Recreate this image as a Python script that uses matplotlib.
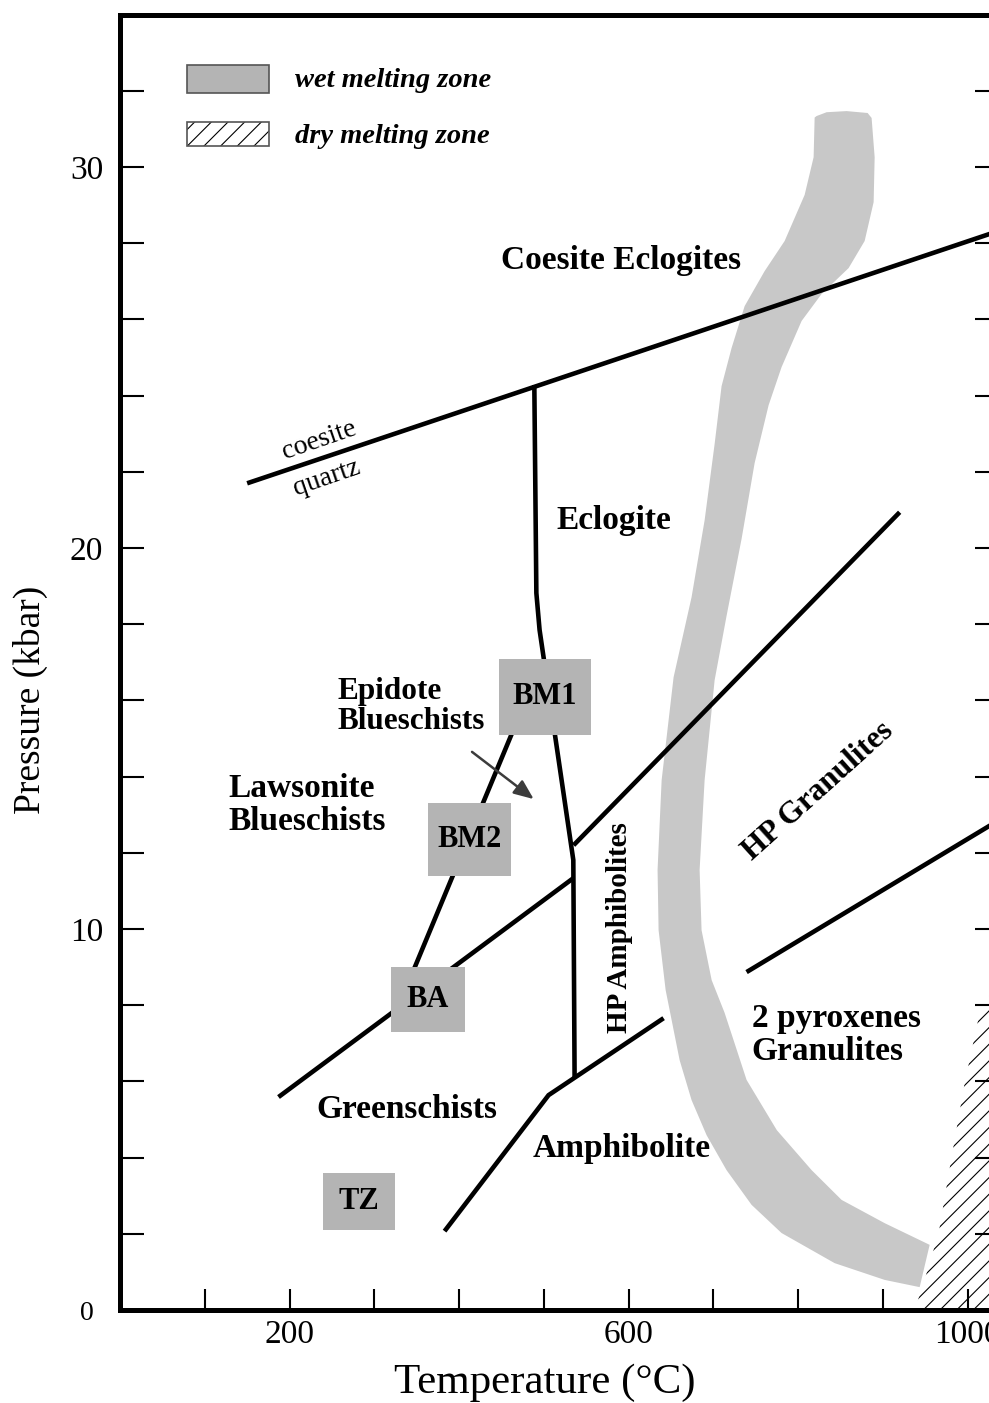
import numpy as np
import matplotlib
matplotlib.use("Agg")
import matplotlib.pyplot as plt
from matplotlib.patches import Polygon, Rectangle
from matplotlib.transforms import ScaledTranslation

plt.rcParams['font.family'] = ['Liberation Serif', 'DejaVu Serif']
plt.rcParams['hatch.linewidth'] = 0.8

# reaction / facies boundaries, T in deg C and P in kbar
coesite_T = [150, 1040]
coesite_P = [21.7, 28.35]

eclogite_T = [488.8, 491.2, 495.0, 534.8, 536.3]
eclogite_P = [24.28, 18.82, 17.85, 11.81, 6.11]

blueschist_T = [343.9, 469.0]
blueschist_P = [8.79, 15.49]

greenschist_T = [187.0, 535.1]
greenschist_P = [5.59, 11.34]

hp_granulite_T = [535.1, 919.8]
hp_granulite_P = [12.20, 20.94]

pyroxene_T = [739.2, 1040]
pyroxene_P = [8.87, 12.9]

amphibolite_T = [382.9, 505.6, 641.3]
amphibolite_P = [2.07, 5.64, 7.66]

# wet solidus band: left edge (top -> bottom), then right edge (bottom -> top)
wet_left_T = [819.5, 818.3, 807.7, 784.1, 760.5, 736.9, 721.5, 709.7, 701.5,
              689.7, 674.3, 653.1, 639.0, 634.2, 635.4, 643.7, 660.2, 674.3,
              692.0, 715.6, 745.1, 780.5, 843.1, 902.1, 943.4]
wet_left_P = [31.30, 30.26, 29.27, 28.06, 27.27, 26.35, 25.25, 24.25, 22.73,
              20.73, 18.71, 16.61, 13.91, 11.55, 9.97, 8.40, 6.56, 5.51,
              4.59, 3.67, 2.76, 2.02, 1.23, 0.79, 0.60]
wet_right_T = [955.2, 902.1, 851.3, 816.0, 774.9, 739.2, 713.3, 698.0, 686.1,
               683.8, 689.7, 701.5, 715.6, 733.3, 748.7, 765.2, 780.5, 804.1,
               827.7, 859.6, 878.5, 889.1, 890.3, 886.7, 882.0, 857.2, 833.6,
               821.8]
wet_right_P = [1.71, 2.28, 2.89, 3.67, 4.72, 6.04, 7.80, 8.66, 9.97,
               11.55, 13.91, 16.53, 18.22, 20.24, 22.23, 23.75, 24.75, 25.96,
               26.67, 27.35, 28.06, 29.08, 30.26, 31.29, 31.42, 31.47, 31.44,
               31.34]

# dry solidus: low-T edge of the hatched field
dry_T = [937.5, 948.1, 965.8, 981.1, 996.5, 1014.2, 1027.1, 1045, 1045]
dry_P = [0.0, 0.71, 2.02, 4.02, 5.96, 7.80, 8.32, 9.0, 0.0]

# P-T estimates of the samples
samples = ['BM1', 'BM2', 'BA', 'TZ']
sample_Tmin = [447, 363, 320, 239]
sample_Tmax = [556, 461, 407, 325]
sample_Pmin = [15.1, 11.4, 7.3, 2.1]
sample_Pmax = [17.1, 13.3, 9.0, 3.6]

fig = plt.figure(figsize=(9.89, 14.03), dpi=100)
ax = fig.add_axes([120 / 989, 93 / 1403, 879 / 989, 1295.3 / 1403])
ax.set_xlim(0, 1037)
ax.set_ylim(0, 34)

ax.add_patch(Polygon(np.column_stack([dry_T, dry_P]), closed=True,
                     facecolor='white', edgecolor='black', lw=0,
                     hatch='//', zorder=1))
ax.add_patch(Polygon(np.column_stack([wet_left_T + wet_right_T,
                                      wet_left_P + wet_right_P]),
                     closed=True, facecolor='#c8c8c8', edgecolor='none',
                     zorder=2))

lw = 3.3
for T, P in [(coesite_T, coesite_P), (eclogite_T, eclogite_P),
             (blueschist_T, blueschist_P), (greenschist_T, greenschist_P),
             (hp_granulite_T, hp_granulite_P), (pyroxene_T, pyroxene_P),
             (amphibolite_T, amphibolite_P)]:
    ax.plot(T, P, color='black', lw=lw, solid_joinstyle='miter',
            solid_capstyle='butt', zorder=3)

for name, t0, t1, p0, p1 in zip(samples, sample_Tmin, sample_Tmax,
                                sample_Pmin, sample_Pmax):
    ax.add_patch(Rectangle((t0, p0), t1 - t0, p1 - p0, facecolor='#b4b4b4',
                           edgecolor='none', zorder=4))
    ax.text((t0 + t1) / 2, (p0 + p1) / 2, name, ha='center', va='center',
            fontsize=22, fontweight='bold', zorder=5)

ax.annotate('', xy=(488.1, 13.41), xytext=(415.3, 14.65),
            arrowprops=dict(arrowstyle='-|>,head_length=1.2,head_width=0.5',
                            color='#3c3c3c', lw=1.8, shrinkA=0, shrinkB=0),
            zorder=5)

bold = dict(fontsize=24, fontweight='bold', zorder=5)
ax.text(591.7, 27.56, 'Coesite Eclogites', ha='center', va='center', **bold)
ax.text(582.3, 20.73, 'Eclogite', ha='center', va='center', **bold)
ax.text(256.6, 15.85, 'Epidote\nBlueschists', ha='left', va='center',
        linespacing=1.05, fontsize=22.5, fontweight='bold', zorder=5)
ax.text(128.0, 13.25, 'Lawsonite\nBlueschists', ha='left', va='center',
        linespacing=1.1, **bold)
ax.text(338.1, 5.25, 'Greenschists', ha='center', va='center', **bold)
ax.text(591.7, 4.25, 'Amphibolite', ha='center', va='center', **bold)
ax.text(589.4, 10.05, 'HP Amphibolites', ha='center', va='center',
        rotation=90, fontsize=21, fontweight='bold', zorder=5)
ax.text(824.2, 13.62, 'HP Granulites', ha='center', va='center',
        rotation=42, rotation_mode='anchor', fontsize=22.5,
        fontweight='bold', zorder=5)
ax.text(745.1, 7.22, '2 pyroxenes\nGranulites', ha='left', va='center',
        linespacing=1.1, **bold)
ax.text(235.4, 22.83, 'coesite', ha='center', va='center', fontsize=20,
        rotation=19, rotation_mode='anchor', zorder=5)
ax.text(243.7, 21.84, 'quartz', ha='center', va='center', fontsize=20,
        rotation=19, rotation_mode='anchor', zorder=5)

# legend boxes
ax.add_patch(Rectangle((78.5, 31.94), 96.7, 0.74, facecolor='#b4b4b4',
                       edgecolor='#555555', lw=1.2, zorder=5))
ax.add_patch(Rectangle((78.5, 30.55), 96.7, 0.63, facecolor='white',
                       edgecolor='black', lw=0, hatch='//', zorder=5))
ax.add_patch(Rectangle((78.5, 30.55), 96.7, 0.63, facecolor='none',
                       edgecolor='#555555', lw=1.2, zorder=6))
ax.text(205.9, 32.28, 'wet melting zone', ha='left', va='center',
        fontsize=20.5, fontweight='bold', fontstyle='italic')
ax.text(205.9, 30.79, 'dry melting zone', ha='left', va='center',
        fontsize=20.5, fontweight='bold', fontstyle='italic')

for side in ['top', 'left', 'bottom', 'right']:
    ax.spines[side].set_linewidth(3.6)
    ax.spines[side].set_zorder(7)

ax.set_xticks([200, 600, 1000])
ax.set_xticks(np.arange(0, 1001, 100), minor=True)
ax.set_yticks([0, 10, 20, 30])
ax.set_yticks(np.arange(0, 33, 2), minor=True)
ax.tick_params(axis='x', which='both', direction='in', length=15, width=1.5,
               labelsize=24, pad=7)
ax.tick_params(axis='y', which='both', direction='in', length=17, width=1.5,
               labelsize=24, pad=12, right=True)
zero_label = ax.get_yticklabels()[0]
zero_label.set_fontsize(20)
zero_label.set_transform(zero_label.get_transform()
                         + ScaledTranslation(-7 / 72, 0, fig.dpi_scale_trans))

ax.set_xlabel('Temperature (°C)', fontsize=31, va='center')
ax.xaxis.set_label_coords(0.4835, -0.0564)
ax.set_ylabel('Pressure (kbar)', fontsize=27, va='center')
ax.yaxis.set_label_coords(-0.102, 0.471)

fig.savefig('out.png', dpi=100)
